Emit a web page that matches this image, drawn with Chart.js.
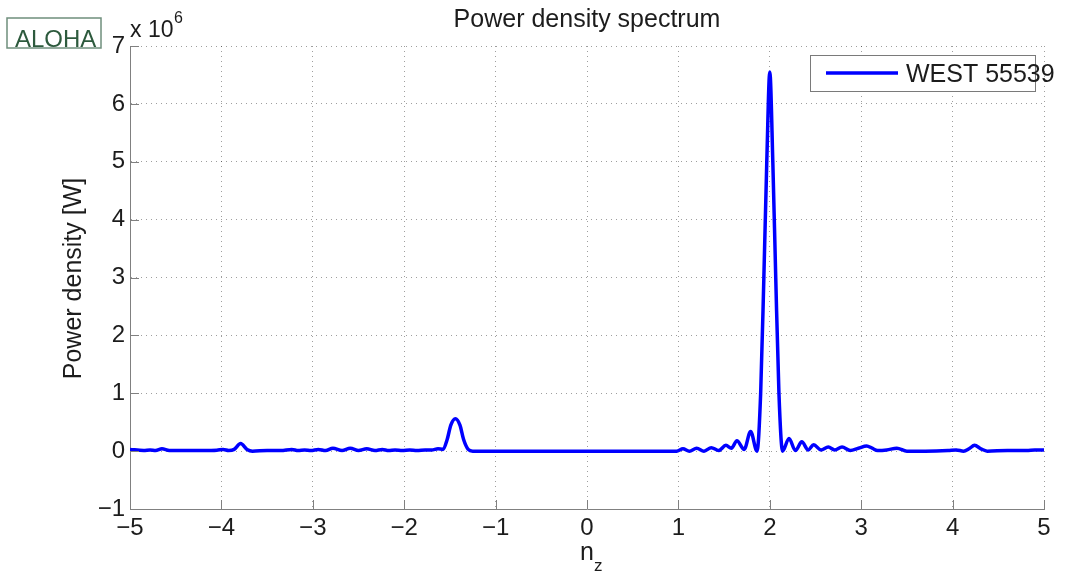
<!DOCTYPE html>
<html>
<head>
<meta charset="utf-8">
<title>Power density spectrum</title>
<script src="https://cdn.jsdelivr.net/npm/chart.js@4/dist/chart.umd.min.js"></script>
<style>
  html, body { margin: 0; padding: 0; background: #fff; }
  canvas { display: block; }
</style>
</head>
<body>
<canvas id="spectrum" width="1065" height="574"></canvas>
<script>
// --- DATA (power in units of 10^6 W) ---
const nz = [
  -5.00, -4.85, -4.78, -4.72, -4.65, -4.57, -4.40, -4.20, -4.05, -3.98, -3.92, -3.86, -3.79, -3.72, -3.66,
  -3.50, -3.35, -3.23, -3.16, -3.09, -3.02, -2.94, -2.86, -2.78, -2.68, -2.59, -2.50, -2.41, -2.32, -2.24,
  -2.17, -2.10, -2.02, -1.94, -1.86, -1.77, -1.70, -1.63, -1.575, -1.53, -1.49, -1.44, -1.39, -1.35, -1.30,
  -1.25, -1.15, -0.50, 0.00, 0.50, 0.98, 1.05, 1.12, 1.20, 1.28, 1.36, 1.44, 1.52, 1.58, 1.64, 1.72, 1.79,
  1.86, 1.90, 1.935, 1.967, 2.00, 2.033, 2.065, 2.10, 2.14, 2.21, 2.28, 2.35, 2.42, 2.48, 2.56, 2.64, 2.71,
  2.79, 2.88, 2.97, 3.06, 3.12, 3.18, 3.28, 3.39, 3.50, 3.70, 3.95, 4.04, 4.12, 4.18, 4.24, 4.31, 4.38,
  4.60, 4.81, 4.90, 5.00
];
const power = [
  0.03, 0.01, 0.02, 0.01, 0.04, 0.01, 0.01, 0.01, 0.015, 0.03, 0.01, 0.03, 0.13, 0.03, 0.00,
  0.01, 0.01, 0.03, 0.01, 0.02, 0.01, 0.03, 0.01, 0.05, 0.01, 0.05, 0.01, 0.04, 0.01, 0.03,
  0.01, 0.02, 0.01, 0.02, 0.01, 0.02, 0.02, 0.04, 0.03, 0.20, 0.45, 0.56, 0.45, 0.20, 0.03,
  0.00, 0.00, 0.00, 0.00, 0.00, 0.00, 0.04, 0.00, 0.05, 0.00, 0.06, 0.01, 0.10, 0.05, 0.18, 0.03, 0.34,
  0.00, 1.00, 3.00, 5.00, 6.55, 5.00, 3.00, 1.00, 0.00, 0.22, 0.01, 0.16, 0.02, 0.11, 0.02, 0.07, 0.02,
  0.07, 0.01, 0.05, 0.09, 0.05, 0.01, 0.02, 0.05, 0.00, 0.00, 0.01, 0.02, 0.00, 0.04, 0.10, 0.04, 0.00,
  0.01, 0.01, 0.02, 0.02
];
const xRange = [-5, 5];
const yRange = [-1, 7];
const yExponent = 6;
const seriesLabel = 'WEST 55539';
const chartTitle = 'Power density spectrum';
const yTitle = 'Power density [W]';
const tagText = 'ALOHA';

const FONT = "'Liberation Sans', Arial, Helvetica, sans-serif";
const TEXT = '#1c1c1c';
const AXIS = '#808080';

// MATLAB style minus sign on tick labels
const fmtTick = v => (v < 0 ? '\u2212' + Math.abs(v) : String(v));

// --- OVERLAYS: title, ALOHA tag, exponent, legend, axis titles, inward ticks ---
const decorations = {
  id: 'decorations',
  afterDraw(chart) {
    const ctx = chart.ctx;
    const { left, right, top, bottom } = chart.chartArea;
    const xs = chart.scales.x, ys = chart.scales.y;
    ctx.save();

    // inward tick marks on the bottom and left axes
    ctx.strokeStyle = AXIS;
    ctx.lineWidth = 1;
    ctx.beginPath();
    for (let v = xRange[0]; v <= xRange[1]; v++) {
      const px = Math.round(xs.getPixelForValue(v)) + 0.5;
      ctx.moveTo(px, bottom); ctx.lineTo(px, bottom - 9);
    }
    for (let v = yRange[0]; v <= yRange[1]; v++) {
      const py = Math.round(ys.getPixelForValue(v)) + 0.5;
      ctx.moveTo(left, py); ctx.lineTo(left + 9, py);
    }
    ctx.stroke();

    ctx.fillStyle = TEXT;
    ctx.textBaseline = 'alphabetic';

    // title
    ctx.font = `25px ${FONT}`;
    ctx.textAlign = 'center';
    ctx.fillText(chartTitle, (left + right) / 2, 27);

    // x 10^6
    ctx.textAlign = 'left';
    ctx.font = `23px ${FONT}`;
    ctx.fillText('x 10', 130, 37);
    ctx.font = `16px ${FONT}`;
    ctx.fillText(String(yExponent), 174, 23);

    // ALOHA tag
    ctx.strokeStyle = '#6f8f7c';
    ctx.lineWidth = 1.5;
    ctx.strokeRect(7, 18, 94, 30);
    ctx.fillStyle = '#2d5a3d';
    ctx.font = `24px ${FONT}`;
    ctx.fillText(tagText, 15, 47);

    // y axis title
    ctx.fillStyle = TEXT;
    ctx.save();
    ctx.translate(81, (top + bottom) / 2 + 1);
    ctx.rotate(-Math.PI / 2);
    ctx.textAlign = 'center';
    ctx.font = `25px ${FONT}`;
    ctx.fillText(yTitle, 0, 0);
    ctx.restore();

    // x axis title n_z
    ctx.textAlign = 'left';
    ctx.font = `25px ${FONT}`;
    ctx.fillText('n', 580, 560);
    ctx.font = `17px ${FONT}`;
    ctx.fillText('z', 594, 571);

    // legend
    const ds = chart.data.datasets[0];
    ctx.fillStyle = '#fff';
    ctx.fillRect(810, 55, 226, 37);
    ctx.strokeStyle = '#7a7a7a';
    ctx.lineWidth = 1;
    ctx.strokeRect(810.5, 55.5, 225, 36);
    ctx.strokeStyle = ds.borderColor;
    ctx.lineWidth = ds.borderWidth;
    ctx.beginPath();
    ctx.moveTo(826, 73); ctx.lineTo(898, 73);
    ctx.stroke();
    ctx.fillStyle = TEXT;
    ctx.font = `25px ${FONT}`;
    ctx.fillText(ds.label, 906, 82);

    ctx.restore();
  }
};

// --- CHART ---
function renderSpectrum() {
  const points = nz.map((x, i) => ({ x, y: power[i] }));

  const gridStyle = { color: 'rgba(0,0,0,0.38)', lineWidth: 1, drawTicks: false };
  const borderStyle = { display: true, color: AXIS, width: 1, dash: [1, 4] };
  const tickFont = { family: FONT, size: 24 };

  new Chart(document.getElementById('spectrum'), {
    type: 'line',
    data: {
      datasets: [{
        label: seriesLabel,
        data: points,
        borderColor: '#0000ff',
        borderWidth: 3.5,
        pointRadius: 0,
        fill: false,
        cubicInterpolationMode: 'monotone'
      }]
    },
    options: {
      responsive: false,
      animation: false,
      events: [],
      layout: { padding: { top: 46, right: 21, left: 0, bottom: 0 } },
      plugins: { legend: { display: false }, title: { display: false }, tooltip: { enabled: false } },
      scales: {
        x: {
          type: 'linear', min: xRange[0], max: xRange[1],
          ticks: { stepSize: 1, padding: 5, color: TEXT, font: tickFont, maxRotation: 0, autoSkip: false, callback: fmtTick },
          grid: gridStyle, border: borderStyle,
          afterFit: s => { s.height = 65; }
        },
        y: {
          type: 'linear', min: yRange[0], max: yRange[1],
          ticks: { stepSize: 1, padding: 5, color: TEXT, font: tickFont, autoSkip: false, callback: fmtTick },
          grid: gridStyle, border: borderStyle,
          afterFit: s => { s.width = 130; }
        }
      }
    },
    plugins: [decorations]
  });
}

renderSpectrum();
</script>
</body>
</html>
